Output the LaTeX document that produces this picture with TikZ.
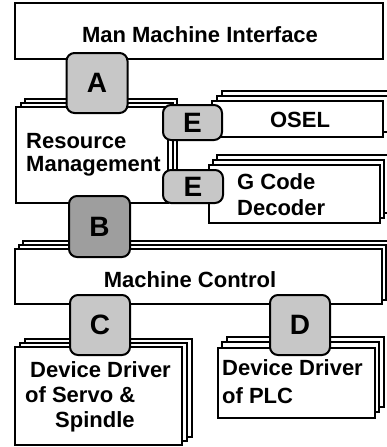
\documentclass[tikz,border=0pt]{standalone}
\usepackage{fontspec}
\setmainfont{Liberation Sans}
\begin{document}
\begin{tikzpicture}[x=1pt,y=-1pt,
  page/.style={draw=black, line width=1.2pt, fill=white},
  box/.style={draw=black, line width=1.3pt, fill=white, inner sep=0pt},
  badge/.style={draw=black, line width=2pt, rounded corners=8pt, fill=black!22, inner sep=0pt, font=\fontsize{28}{28}\selectfont\bfseries},
  lbl/.style={font=\fontsize{22}{25}\selectfont\bfseries, inner sep=0pt},
]
\useasboundingbox (0,0) rectangle (386,447);
% Man Machine Interface
\node[box, minimum width=368pt, minimum height=56pt] (mmi) at (199,31) {};
% Resource Management stack
\draw[page] (25,99) rectangle (177,195);
\draw[page] (21,103) rectangle (173,199);
\node[box, minimum width=152pt, minimum height=96pt] (rm) at (92,155) {};
% OSEL stack
\draw[page] (222,91) rectangle (393,127);
\draw[page] (217,96) rectangle (388,132);
\node[box, minimum width=171pt, minimum height=36pt] (osel) at (297.5,119) {};
% G Code Decoder stack
\draw[page] (217,155) rectangle (388,213);
\draw[page] (213,160) rectangle (384,218);
\node[box, minimum width=171pt, minimum height=58pt] (gcd) at (294.5,194) {};
% Machine Control stack
\draw[page] (23,241) rectangle (390,296);
\draw[page] (19,245) rectangle (386,300);
\node[box, minimum width=367pt, minimum height=55pt] (mc) at (198.5,276.5) {};
% Device Driver of Servo & Spindle stack
\draw[page] (25,339) rectangle (192,437);
\draw[page] (20,343) rectangle (187,441);
\node[box, minimum width=167pt, minimum height=98pt] (dds) at (98.5,396) {};
% Device Driver of PLC stack
\draw[page] (227,337) rectangle (384,407);
\draw[page] (222,342) rectangle (379,412);
\node[box, minimum width=157pt, minimum height=70pt] (ddp) at (296.5,383) {};
% texts
\node[lbl, anchor=base] (t1) at (200,42) {Man Machine Interface};
\node[lbl, anchor=base] (t2) at (300,127) {OSEL};
\node[lbl, anchor=base west] (t3) at (26,148) {Resource};
\node[lbl, anchor=base west] (t4) at (26,171) {Management};
\node[lbl, anchor=base west] (t5) at (237,189) {G Code};
\node[lbl, anchor=base west] (t6) at (237,215) {Decoder};
\node[lbl, anchor=base] (t7) at (190,287) {Machine Control};
\node[lbl, anchor=base west] (t8) at (30,377) {Device Driver};
\node[lbl, anchor=base west] (t9) at (25,402) {of Servo \&};
\node[lbl, anchor=base west] (t10) at (55,427) {Spindle};
\node[lbl, anchor=base west] (t11) at (222,375) {Device Driver};
\node[lbl, anchor=base west] (t12) at (222,403) {of PLC};
% badges
\node[badge, minimum width=61pt, minimum height=60pt] (ba) at (97,83) {A};
\node[badge, minimum width=61pt, minimum height=61pt, fill=black!38] (bb) at (99.5,226.5) {B};
\node[badge, minimum width=60pt, minimum height=60pt] (bc) at (100,325) {C};
\node[badge, minimum width=60pt, minimum height=60pt] (bd) at (300,325) {D};
\node[badge, minimum width=59pt, minimum height=35pt] (be1) at (192.5,122.5) {E};
\node[badge, minimum width=60pt, minimum height=33pt] (be2) at (193,186.5) {E};
\end{tikzpicture}
\end{document}
